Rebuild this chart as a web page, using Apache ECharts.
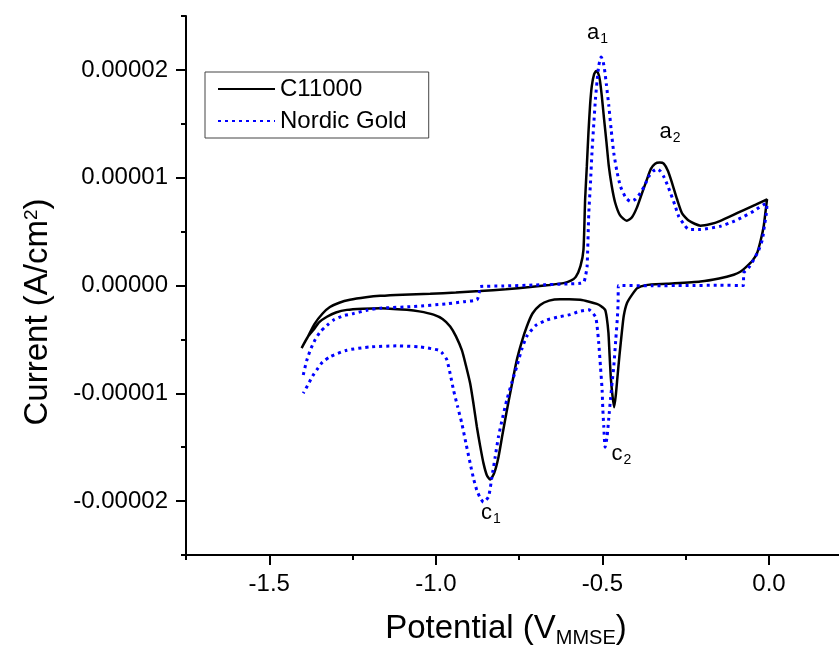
<!DOCTYPE html>
<html>
<head>
<meta charset="utf-8">
<title>CV C11000 vs Nordic Gold</title>
<script src="https://cdn.jsdelivr.net/npm/echarts@6.0.0/dist/echarts.min.js"></script>
<style>
  html, body { margin: 0; padding: 0; background: #fff; }
  #chart { width: 839px; height: 656px; }
</style>
</head>
<body>
<div id="chart"></div>
<script>
// potential in V (MMSE), current in units of 1e-5 A/cm2
var c11000Potential = [
  -1.403, -1.385, -1.365, -1.340, -1.318, -1.290, -1.258, -1.210, -1.167, -1.100,
  -1.017, -0.940, -0.867, -0.790, -0.717, -0.660, -0.617, -0.595, -0.580, -0.566,
  -0.557, -0.552, -0.547, -0.542, -0.537, -0.532, -0.525, -0.519, -0.513, -0.508,
  -0.502, -0.496, -0.488, -0.481, -0.472, -0.462, -0.447, -0.427, -0.412, -0.397,
  -0.382, -0.367, -0.355, -0.342, -0.328, -0.316, -0.303, -0.291, -0.276, -0.261,
  -0.240, -0.206, -0.175, -0.146, -0.110, -0.076, -0.040, -0.006,
  -0.010, -0.016, -0.025, -0.036, -0.050, -0.066, -0.085, -0.106, -0.150, -0.206,
  -0.306, -0.370, -0.396, -0.410, -0.426, -0.436, -0.442, -0.449, -0.455, -0.460,
  -0.465, -0.470, -0.475, -0.479, -0.482, -0.487, -0.492, -0.505, -0.517, -0.540,
  -0.567, -0.600, -0.627, -0.660, -0.687, -0.710, -0.727, -0.742, -0.757, -0.772,
  -0.787, -0.800, -0.812, -0.825, -0.837, -0.847, -0.857, -0.867, -0.877, -0.887,
  -0.897, -0.910, -0.922, -0.940, -0.957, -0.980, -1.007, -1.050, -1.087, -1.167,
  -1.220, -1.267, -1.300, -1.327, -1.350, -1.367, -1.385, -1.403
];
var c11000Current = [
  -0.58, -0.48, -0.36, -0.26, -0.20, -0.16, -0.133, -0.11, -0.096, -0.085,
  -0.077, -0.065, -0.052, -0.035, -0.015, 0.005, 0.022, 0.045, 0.08, 0.18,
  0.33, 0.80, 1.10, 1.42, 1.68, 1.85, 1.96, 1.99, 1.97, 1.91,
  1.76, 1.57, 1.33, 1.11, 0.92, 0.77, 0.65, 0.60, 0.63, 0.72,
  0.85, 0.98, 1.08, 1.13, 1.14, 1.13, 1.06, 0.95, 0.80, 0.67,
  0.60, 0.555, 0.57, 0.60, 0.65, 0.70, 0.75, 0.80,
  0.70, 0.55, 0.42, 0.30, 0.23, 0.18, 0.13, 0.10, 0.065, 0.037,
  0.016, 0.003, -0.025, -0.08, -0.16, -0.28, -0.44, -0.65, -0.85, -1.02,
  -1.13, -1.02, -0.85, -0.62, -0.44, -0.30, -0.226, -0.19, -0.17, -0.15,
  -0.133, -0.127, -0.127, -0.14, -0.18, -0.26, -0.38, -0.52, -0.69, -0.92,
  -1.16, -1.38, -1.59, -1.74, -1.80, -1.76, -1.65, -1.49, -1.31, -1.10,
  -0.91, -0.74, -0.60, -0.47, -0.38, -0.31, -0.27, -0.24, -0.226, -0.21,
  -0.215, -0.226, -0.25, -0.29, -0.34, -0.41, -0.48, -0.58
];

var nordicPotential = [
  -1.398, -1.388, -1.377, -1.362, -1.347, -1.327, -1.307, -1.277, -1.247, -1.207,
  -1.167, -1.067, -0.967, -0.917, -0.877, -0.870, -0.867, -0.800, -0.700, -0.600,
  -0.567, -0.556, -0.550, -0.546, -0.541, -0.536, -0.531, -0.526, -0.521, -0.516,
  -0.511, -0.504, -0.499, -0.494, -0.488, -0.481, -0.474, -0.466, -0.456, -0.446,
  -0.431, -0.416, -0.401, -0.386, -0.373, -0.361, -0.348, -0.336, -0.326, -0.316,
  -0.306, -0.296, -0.283, -0.271, -0.256, -0.241, -0.206, -0.146, -0.110, -0.076,
  -0.046, -0.016, -0.006,
  -0.008, -0.014, -0.020, -0.032, -0.046, -0.060, -0.076, -0.077, -0.150, -0.250,
  -0.350, -0.452, -0.453, -0.455, -0.460, -0.466, -0.471, -0.476, -0.481, -0.486,
  -0.492, -0.496, -0.499, -0.501, -0.506, -0.511, -0.516, -0.521, -0.541, -0.570,
  -0.597, -0.630, -0.667, -0.700, -0.727, -0.742, -0.757, -0.772, -0.787, -0.800,
  -0.812, -0.822, -0.832, -0.842, -0.857, -0.867, -0.877, -0.887, -0.897, -0.910,
  -0.922, -0.935, -0.947, -0.957, -0.967, -0.980, -0.992, -1.047, -1.117, -1.197,
  -1.267, -1.317, -1.340, -1.357, -1.370, -1.382, -1.398
];
var nordicCurrent = [
  -0.83, -0.70, -0.60, -0.50, -0.43, -0.37, -0.32, -0.28, -0.26, -0.23,
  -0.21, -0.195, -0.17, -0.15, -0.133, -0.07, -0.01, -0.005, 0.005, 0.015,
  0.02, 0.03, 0.10, 0.18, 0.67, 0.95, 1.26, 1.50, 1.73, 1.90,
  2.04, 2.12, 2.09, 2.01, 1.86, 1.67, 1.45, 1.23, 1.05, 0.92,
  0.82, 0.78, 0.80, 0.86, 0.93, 1.01, 1.06, 1.08, 1.06, 1.01,
  0.94, 0.86, 0.75, 0.64, 0.57, 0.52, 0.52, 0.55, 0.59, 0.64,
  0.69, 0.75, 0.76,
  0.67, 0.55, 0.425, 0.32, 0.24, 0.17, 0.115, 0.0, 0.002, 0.0,
  -0.002, 0.0, -0.15, -0.29, -0.50, -0.75, -0.90, -1.06, -1.23, -1.40,
  -1.50, -1.31, -1.14, -0.97, -0.75, -0.54, -0.38, -0.29, -0.226, -0.24,
  -0.27, -0.29, -0.32, -0.37, -0.47, -0.59, -0.75, -0.90, -1.06, -1.23,
  -1.40, -1.59, -1.78, -1.96, -2.01, -1.97, -1.90, -1.79, -1.65, -1.46,
  -1.28, -1.12, -0.97, -0.82, -0.69, -0.63, -0.60, -0.57, -0.56, -0.57,
  -0.60, -0.66, -0.71, -0.78, -0.84, -0.91, -1.00
];

var xMajorTicks = [-1.5, -1.0, -0.5, 0.0];
var xMinorTicks = [-1.75, -1.25, -0.75, -0.25];
var yMajorTicks = [-2, -1, 0, 1, 2];
var yMinorTicks = [-2.5, -1.5, -0.5, 0.5, 1.5, 2.5];

// peak labels: letter, subscript, potential, current
var peakLabels = [
  ['a', '1', -0.515, 2.34],
  ['a', '2', -0.297, 1.42],
  ['c', '1', -0.835, -2.11],
  ['c', '2', -0.443, -1.56]
];

var FONT = "'Liberation Sans', Arial, sans-serif";

function pairs(xs, ys) {
  var out = [];
  for (var i = 0; i < xs.length; i++) out.push([xs[i], ys[i]]);
  return out;
}

var myChart = echarts.init(document.getElementById('chart'));
var option = {
  backgroundColor: '#fff',
  animation: false,
  textStyle: { fontFamily: FONT },
  grid: { left: 186, top: 16, right: 0, bottom: 101, containLabel: false },
  legend: {
    orient: 'vertical',
    left: 205,
    top: 72,
    padding: [5, 22, 5, 12],
    itemWidth: 57,
    itemHeight: 14,
    itemGap: 8,
    borderColor: '#444',
    borderWidth: 1,
    itemStyle: { opacity: 0 },
    textStyle: { fontSize: 24, color: '#000', fontFamily: FONT },
    data: ['C11000', 'Nordic Gold']
  },
  xAxis: [
    {
      type: 'value', min: -1.75, max: 0.21,
      axisLine: { onZero: false, lineStyle: { color: '#000', width: 2 } },
      axisTick: { customValues: xMajorTicks, length: 10, lineStyle: { color: '#000', width: 2 } },
      axisLabel: {
        customValues: xMajorTicks, margin: 17, fontSize: 24, color: '#000', fontFamily: FONT,
        formatter: function (v) { return v.toFixed(1); }
      },
      splitLine: { show: false }
    },
    {
      type: 'value', min: -1.75, max: 0.21, position: 'bottom',
      axisLine: { show: false, onZero: false },
      axisTick: { customValues: xMinorTicks, length: 5, lineStyle: { color: '#000', width: 2 } },
      axisLabel: { show: false },
      splitLine: { show: false }
    }
  ],
  yAxis: [
    {
      type: 'value', min: -2.5, max: 2.5, position: 'left',
      axisLine: { show: true, onZero: false, lineStyle: { color: '#000', width: 2 } },
      axisTick: { show: true, customValues: yMajorTicks, length: 10, lineStyle: { color: '#000', width: 2 } },
      axisLabel: {
        customValues: yMajorTicks, margin: 18, fontSize: 24, color: '#000', fontFamily: FONT,
        formatter: function (v) { return (v / 1e5).toFixed(5); }
      },
      splitLine: { show: false }
    },
    {
      type: 'value', min: -2.5, max: 2.5, position: 'left',
      axisLine: { show: false, onZero: false },
      axisTick: { show: true, customValues: yMinorTicks, length: 5, lineStyle: { color: '#000', width: 2 } },
      axisLabel: { show: false },
      splitLine: { show: false }
    }
  ],
  graphic: [
    {
      type: 'text', x: 506, y: 629,
      style: {
        text: '{t|Potential (V}{s|MMSE}{t|)}',
        align: 'center', verticalAlign: 'middle',
        rich: {
          t: { fontSize: 33, fontFamily: FONT, fill: '#000' },
          s: { fontSize: 20, fontFamily: FONT, fill: '#000', padding: [19, 0, 0, 0] }
        }
      }
    },
    {
      type: 'text', x: 32, y: 312, rotation: Math.PI / 2,
      style: {
        text: '{t|Current (A/cm}{s|2}{t|)}',
        align: 'center', verticalAlign: 'middle',
        rich: {
          t: { fontSize: 33, fontFamily: FONT, fill: '#000', padding: [12, 0, 0, 0] },
          s: { fontSize: 19, fontFamily: FONT, fill: '#000' }
        }
      }
    }
  ],
  series: [
    {
      name: 'C11000',
      type: 'line',
      showSymbol: false,
      symbol: 'none',
      smooth: 0.2,
      lineStyle: { color: '#000', width: 2.5 },
      itemStyle: { color: '#000' },
      data: pairs(c11000Potential, c11000Current),
      markPoint: {
        symbol: 'circle',
        symbolSize: 0,
        label: {
          show: true, position: 'inside',
          formatter: function (p) { return '{m|' + p.data.letter + '}{s|' + p.data.sub + '}'; },
          rich: {
            m: { fontSize: 22, fontFamily: FONT, color: '#000' },
            s: { fontSize: 14, fontFamily: FONT, color: '#000', padding: [12, 0, 0, 1] }
          }
        },
        data: peakLabels.map(function (p) {
          return { coord: [p[2], p[3]], letter: p[0], sub: p[1] };
        })
      }
    },
    {
      name: 'Nordic Gold',
      type: 'line',
      showSymbol: false,
      symbol: 'none',
      smooth: 0.2,
      lineStyle: { color: '#0000ff', width: 3, type: [3, 4] },
      itemStyle: { color: '#0000ff' },
      data: pairs(nordicPotential, nordicCurrent)
    }
  ]
};
myChart.setOption(option);
</script>
</body>
</html>
